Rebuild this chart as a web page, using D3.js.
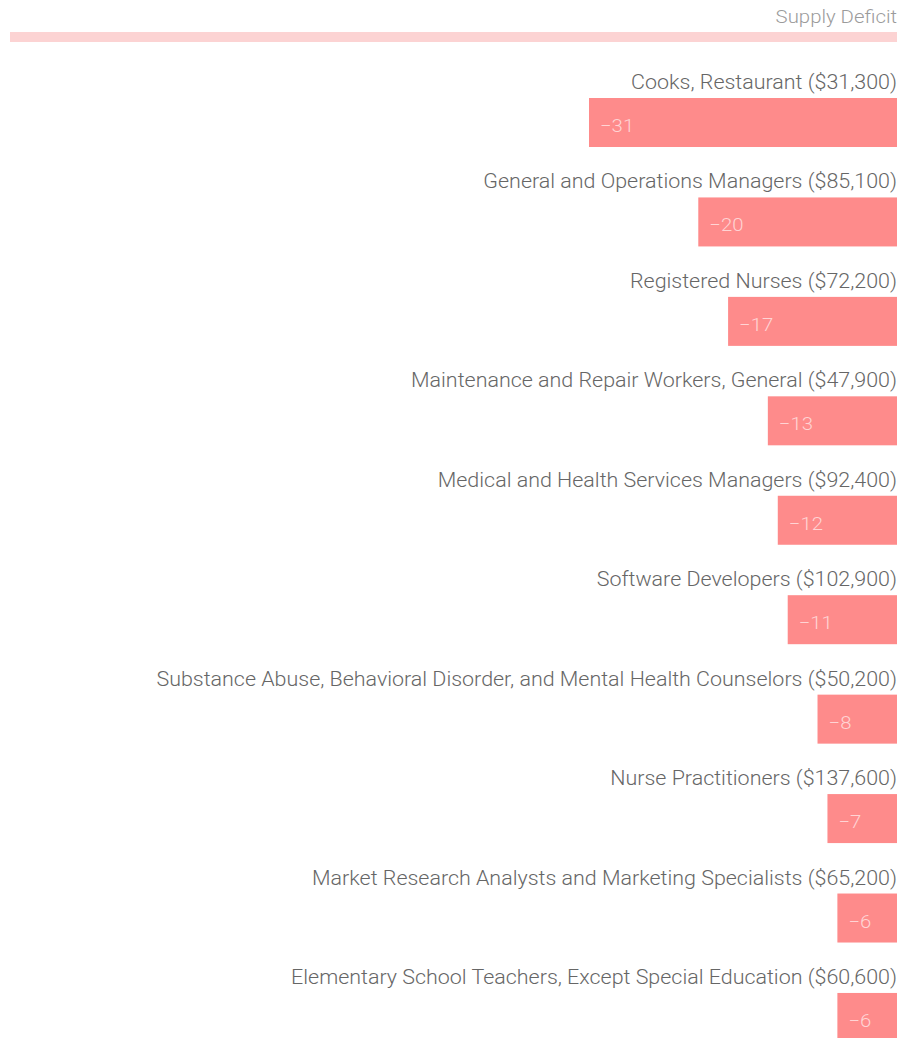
<!DOCTYPE html>
<html>
<head>
<meta charset="utf-8">
<script src="https://cdn.jsdelivr.net/npm/d3@7"></script>
<style>
html,body{margin:0;padding:0;background:#fff;}
svg{display:block;}
text{font-family:Roboto, "Noto Sans", sans-serif;font-weight:300;}
</style>
</head>
<body>
<svg id="chart" width="902" height="1038"></svg>
<script>
const categories = [
  "Cooks, Restaurant ($31,300)",
  "General and Operations Managers ($85,100)",
  "Registered Nurses ($72,200)",
  "Maintenance and Repair Workers, General ($47,900)",
  "Medical and Health Services Managers ($92,400)",
  "Software Developers ($102,900)",
  "Substance Abuse, Behavioral Disorder, and Mental Health Counselors ($50,200)",
  "Nurse Practitioners ($137,600)",
  "Market Research Analysts and Marketing Specialists ($65,200)",
  "Elementary School Teachers, Except Special Education ($60,600)"
];
const values = [-31, -20, -17, -13, -12, -11, -8, -7, -6, -6];
const headerLabel = "Supply Deficit";

const svg = d3.select("#chart");
const right = 897;
const sx = 1.1;

const x = d3.scaleLinear().domain([-31, 0]).range([589, right]);
const rowStep = 99.44;
const bh = 49;
const y = d3.scaleLinear().domain([0, 1]).range([98, 98 + rowStep]);

// header
svg.append("text").attr("transform", `translate(${right},23) scale(${sx},1)`).attr("text-anchor", "end")
  .attr("font-size", 18.5).attr("fill", "#9b9b9b").text(headerLabel);
svg.append("rect").attr("x", 10).attr("y", 32).attr("width", right - 10).attr("height", 10)
  .attr("fill", "#fcd3d3");

const data = categories.map((c, i) => ({c, v: values[i], i}));
const g = svg.append("g");

g.selectAll("text.lab").data(data).join("text").attr("class", "lab")
  .attr("transform", d => `translate(${right},${y(d.i) - 9}) scale(${sx},1)`)
  .attr("text-anchor", "end").attr("font-size", 19.5).attr("fill", "#666")
  .text(d => d.c);

g.selectAll("rect.bar").data(data).join("rect").attr("class", "bar")
  .attr("x", d => x(d.v)).attr("y", d => y(d.i))
  .attr("width", d => x(0) - x(d.v)).attr("height", bh)
  .attr("fill", "#fe8b8b");

g.selectAll("text.val").data(data).join("text").attr("class", "val")
  .attr("transform", d => `translate(${x(d.v) + 11},${y(d.i) + bh / 2 + 9.5}) scale(${sx},1)`)
  .attr("font-size", 18.5).attr("fill", "#ffd4d4")
  .text(d => "\u2212" + Math.abs(d.v));
</script>
</body>
</html>
